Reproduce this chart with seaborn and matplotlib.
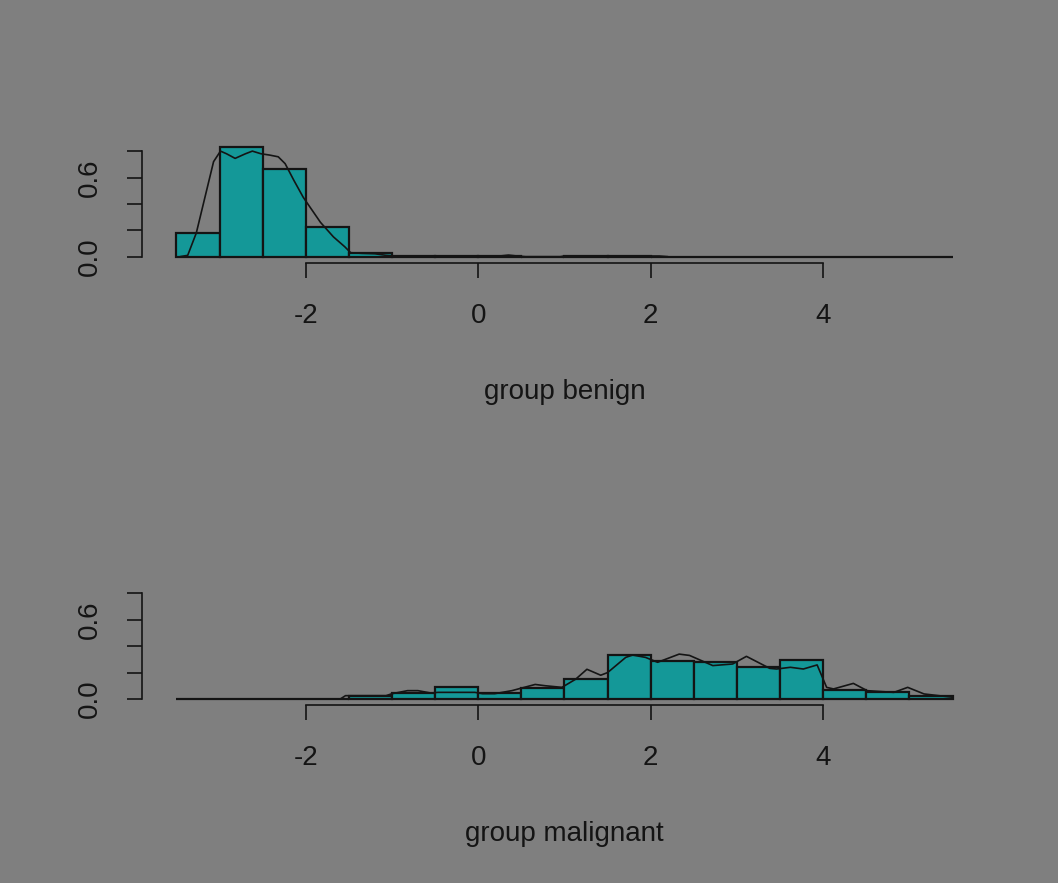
import numpy as np
import pandas as pd
import matplotlib
matplotlib.use("Agg")
import matplotlib.pyplot as plt
import seaborn as sns

# Histogram breaks shared by both groups (LD1 scores)
bin_edges = [-3.5, -3.0, -2.5, -2.0, -1.5, -1.0, -0.5, 0.0, 0.5, 1.0,
             1.5, 2.0, 2.5, 3.0, 3.5, 4.0, 4.5, 5.0, 5.5]

# Density height of each bin, per group
benign_heights = [0.177, 0.829, 0.662, 0.223, 0.025, 0.0045, 0.0045, 0.0045, 0.0,
                  0.0045, 0.0045, 0.0, 0.0, 0.0, 0.0, 0.0, 0.0, 0.0]
malignant_heights = [0.0, 0.0, 0.0, 0.0, 0.025, 0.042, 0.088, 0.042, 0.085,
                     0.155, 0.33, 0.29, 0.28, 0.245, 0.295, 0.068, 0.05, 0.025]

# Kernel density estimate traced over each histogram
benign_kde_x = [-3.46, -3.37, -3.27, -3.17, -3.07, -2.99, -2.92, -2.82, -2.70, -2.62,
                -2.52, -2.42, -2.32, -2.24, -2.14, -2.03, -1.83, -1.68, -1.55, -1.48,
                -1.35, -1.20, -1.07, -0.95, 0.25, 0.35, 0.45, 0.55, 0.95, 1.00,
                1.60, 1.66, 1.70, 2.10, 2.20]
benign_kde_y = [0.0, 0.01, 0.18, 0.45, 0.72, 0.80, 0.78, 0.745, 0.78, 0.80,
                0.78, 0.77, 0.757, 0.705, 0.58, 0.45, 0.26, 0.15, 0.076, 0.03,
                0.025, 0.022, 0.01, 0.005, 0.005, 0.012, 0.005, 0.0, 0.0, 0.005,
                0.005, 0.0, 0.005, 0.005, 0.0]

malignant_kde_x = [-1.60, -1.54, -1.07, -1.00, -0.82, -0.70, -0.55, -0.47, -0.04, 0.05,
                   0.19, 0.39, 0.66, 0.78, 0.97, 1.13, 1.26, 1.42, 1.50, 1.71,
                   1.79, 1.94, 2.08, 2.33, 2.45, 2.72, 2.95, 3.11, 3.38, 3.46,
                   3.62, 3.77, 3.93, 4.04, 4.12, 4.35, 4.51, 4.82, 4.98, 5.17, 5.50]
malignant_kde_y = [0.0, 0.025, 0.025, 0.04, 0.063, 0.063, 0.045, 0.05, 0.05, 0.04,
                   0.04, 0.063, 0.11, 0.10, 0.088, 0.15, 0.225, 0.18, 0.20, 0.315,
                   0.333, 0.315, 0.278, 0.34, 0.33, 0.253, 0.265, 0.323, 0.232, 0.227,
                   0.24, 0.227, 0.258, 0.088, 0.076, 0.118, 0.063, 0.05, 0.088, 0.038, 0.013]

group_names = ["benign", "malignant"]
x_ticks = [-2, 0, 2, 4]
y_ticks = [0.0, 0.2, 0.4, 0.6, 0.8]
y_tick_labels = ["0.0", "", "", "0.6", ""]

BG = "#7f7f7f"
FILL = "#149898"
INK = "#141414"

sns.set_theme(style="ticks")
plt.rcParams["font.family"] = ["Liberation Sans", "DejaVu Sans"]
plt.rcParams.update({
    "figure.facecolor": BG,
    "axes.facecolor": BG,
    "savefig.facecolor": BG,
    "text.color": INK,
    "axes.labelcolor": INK,
    "xtick.color": INK,
    "ytick.color": INK,
    "axes.edgecolor": INK,
})

W, H = 1058, 883
fig = plt.figure(figsize=(W / 100, H / 100), dpi=100)

# panel placement in pixels: left, right, top, bottom
panels = [(142, 987, 143.2, 262.6), (142, 987, 585.5, 704.9)]

heights = {"benign": benign_heights, "malignant": malignant_heights}
kdes = {"benign": (benign_kde_x, benign_kde_y),
        "malignant": (malignant_kde_x, malignant_kde_y)}

centers = [(a + b) / 2 for a, b in zip(bin_edges[:-1], bin_edges[1:])]

for name, (l, r, t, b) in zip(group_names, panels):
    ax = fig.add_axes([l / W, (H - b) / H, (r - l) / W, (b - t) / H])
    hist_df = pd.DataFrame({"score": centers, "density": heights[name]})
    sns.histplot(data=hist_df, x="score", weights="density", bins=bin_edges,
                 stat="count", color=FILL, edgecolor=INK, linewidth=1.6,
                 alpha=1.0, ax=ax)
    kx, ky = kdes[name]
    kde_df = pd.DataFrame({"score": kx, "density": ky})
    sns.lineplot(data=kde_df, x="score", y="density", estimator=None,
                 sort=False, color=INK, linewidth=1.2, ax=ax)

    ax.set_xlim(-3.9, 5.9)
    ax.set_ylim(-0.045, 0.86)
    ax.set_xticks(x_ticks)
    ax.set_xticklabels([str(v) for v in x_ticks])
    ax.set_yticks(y_ticks)
    ax.set_yticklabels(y_tick_labels)
    for lab in ax.get_yticklabels():
        lab.set_rotation(90)
        lab.set_va("center")
    ax.tick_params(axis="both", direction="out", length=11, width=1.2,
                   labelsize=20)
    ax.tick_params(axis="x", pad=18)
    ax.tick_params(axis="y", pad=17)
    sns.despine(ax=ax, top=True, right=True)
    ax.spines["bottom"].set_bounds(-2, 4)
    ax.spines["left"].set_bounds(0, 0.8)
    for s in ("bottom", "left"):
        ax.spines[s].set_linewidth(1.2)
    ax.set_ylabel("")
    ax.set_xlabel(f"group {name}", fontsize=20, labelpad=36)
    ax.grid(False)

fig.savefig("out.png", dpi=100, facecolor=BG)
